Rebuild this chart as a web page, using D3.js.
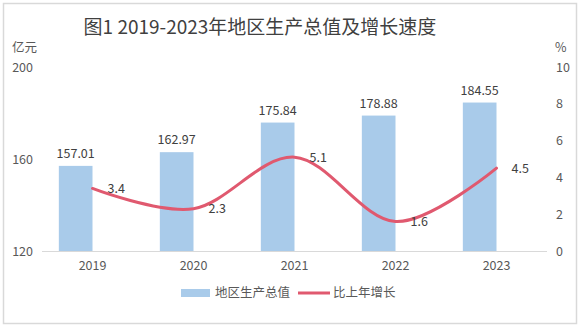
<!DOCTYPE html>
<html>
<head>
<meta charset="utf-8">
<script src="https://cdn.jsdelivr.net/npm/d3@7/dist/d3.min.js"></script>
<style>
  html, body { margin: 0; padding: 0; background: #fff; }
  svg { display: block; font-family: "Noto Sans CJK SC", "Noto Sans", sans-serif; }
</style>
</head>
<body>
<svg id="chart" width="583" height="330"></svg>
<script>
// Data
const years = ["2019", "2020", "2021", "2022", "2023"];
const gdp = [157.01, 162.97, 175.84, 178.88, 184.55];   // 亿元
const growth = [3.4, 2.3, 5.1, 1.6, 4.5];                // %
const leftTicks = [120, 160, 200];
const rightTicks = [0, 2, 4, 6, 8, 10];

const svg = d3.select("#chart");
const textColor = "#595959";
const barColor = "#A9CBEA";
const lineColor = "#E0596F";

// Outer frame
svg.append("rect")
  .attr("x", 3.5).attr("y", 3.5)
  .attr("width", 573).attr("height", 320)
  .attr("fill", "#fff")
  .attr("stroke", "#D9D9D9").attr("stroke-width", 1.5);

const plot = { left: 42, right: 547, top: 67, bottom: 251 };

const x = d3.scaleBand().domain(years).range([plot.left, plot.right]);
const yL = d3.scaleLinear().domain([120, 200]).range([plot.bottom, plot.top]);
const yR = d3.scaleLinear().domain([0, 10]).range([plot.bottom, plot.top]);
const cx = d => x(d) + x.bandwidth() / 2;
const barW = x.bandwidth() / 3;

// Title
svg.append("text")
  .attr("x", 260).attr("y", 34)
  .attr("text-anchor", "middle")
  .attr("font-size", 19)
  .attr("fill", "#404040")
  .text("图1 2019-2023年地区生产总值及增长速度");

// Axis units
svg.append("text").attr("x", 12).attr("y", 52).attr("font-size", 12.5).attr("fill", textColor).text("亿元");
svg.append("text").attr("x", 555).attr("y", 52).attr("font-size", 12.5).attr("fill", textColor).text("%");

// Left axis
const axL = d3.axisLeft(yL).tickValues(leftTicks).tickSize(0).tickPadding(0);
const gL = svg.append("g").attr("transform", `translate(33,0)`).call(axL);
gL.select(".domain").remove();
gL.selectAll("text").attr("font-size", 12.5).attr("fill", textColor)
  .attr("font-family", "'Noto Sans CJK SC', sans-serif");

// Right axis
const axR = d3.axisRight(yR).tickValues(rightTicks).tickSize(0).tickPadding(0);
const gR = svg.append("g").attr("transform", `translate(556,0)`).call(axR);
gR.select(".domain").remove();
gR.selectAll("text").attr("font-size", 12.5).attr("fill", textColor)
  .attr("font-family", "'Noto Sans CJK SC', sans-serif");

// Bars
svg.append("g").selectAll("rect")
  .data(years)
  .join("rect")
  .attr("x", (d) => cx(d) - barW)
  .attr("width", barW)
  .attr("y", (d, i) => yL(gdp[i]))
  .attr("height", (d, i) => yL(120) - yL(gdp[i]))
  .attr("fill", barColor);

// Baseline
svg.append("line")
  .attr("x1", plot.left).attr("x2", plot.right)
  .attr("y1", plot.bottom + 0.5).attr("y2", plot.bottom + 0.5)
  .attr("stroke", "#D9D9D9").attr("stroke-width", 1);

// Bottom axis labels
const axB = d3.axisBottom(x).tickSize(0).tickPadding(0);
const gB = svg.append("g").attr("transform", `translate(0,${plot.bottom + 10})`).call(axB);
gB.select(".domain").remove();
gB.selectAll("text").attr("font-size", 12.5).attr("fill", textColor)
  .attr("font-family", "'Noto Sans CJK SC', sans-serif");

// Bar value labels
svg.append("g").selectAll("text")
  .data(years)
  .join("text")
  .attr("x", (d) => cx(d) - barW / 2)
  .attr("y", (d, i) => yL(gdp[i]) - 8)
  .attr("text-anchor", "middle")
  .attr("font-size", 12.5)
  .attr("fill", "#404040")
  .text((d, i) => gdp[i].toFixed(2));

// Growth line (smoothed)
const line = d3.line()
  .x((d, i) => cx(years[i]))
  .y(d => yR(d))
  .curve(d3.curveCardinal.tension(0));
svg.append("path")
  .datum(growth)
  .attr("d", line)
  .attr("fill", "none")
  .attr("stroke", lineColor)
  .attr("stroke-width", 3)
  .attr("stroke-linecap", "round");

// Growth value labels
svg.append("g").selectAll("text")
  .data(growth)
  .join("text")
  .attr("x", (d, i) => cx(years[i]) + 15)
  .attr("y", d => yR(d))
  .attr("dy", "0.35em")
  .attr("font-size", 12.5)
  .attr("fill", "#404040")
  .text(d => d.toFixed(1));

// Legend
const lg = svg.append("g");
lg.append("rect").attr("x", 181).attr("y", 289).attr("width", 29).attr("height", 8).attr("fill", barColor);
lg.append("text").attr("x", 215).attr("y", 293).attr("dy", "0.35em").attr("font-size", 12.5).attr("fill", textColor).text("地区生产总值");
lg.append("line").attr("x1", 298).attr("x2", 330).attr("y1", 293).attr("y2", 293)
  .attr("stroke", lineColor).attr("stroke-width", 3);
lg.append("text").attr("x", 333).attr("y", 293).attr("dy", "0.35em").attr("font-size", 12.5).attr("fill", textColor).text("比上年增长");
</script>
</body>
</html>
